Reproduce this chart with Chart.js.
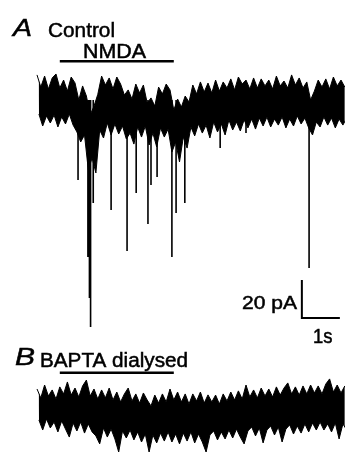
<!DOCTYPE html>
<html lang="en">
<head>
  <meta charset="UTF-8">
  <title>NMDA currents: Control vs BAPTA dialysed</title>
  <script src="https://cdn.jsdelivr.net/npm/chart.js"></script>
  <style>
    body { margin: 0; background: #fff; }
    #wrap { width: 345px; height: 452px; }
  </style>
</head>
<body>
  <div id="wrap"><canvas id="traces" width="345" height="452"></canvas></div>

  <script>
    // sampling of the envelope readings (s); peaks at i*dt, troughs at i*dt + dt/2
    const dt = 0.1;

    // trace A (control): upper and lower edge of the noise band, pA
    const aHigh = [
      13.2, 6.8, 12.6, 5.8, 11.6, 13.7, 6.3, 10.5, 4.7, 12.1,
      9.0, 0, 7.4, 2.1, -7.9, -3.2, 3.0, 12.6, 7.9, 11.6,
      5.8, 12.1, 8.4, 2.6, 5.3, 0.5, 8.4, 3.7, 7.9, -1.6,
      1.1, -3.2, 6.8, 3.2, 8.4, 5.3, -5.3, 0.5, -3.7, 2.1,
      -1.1, 7.9, 3.2, 9.5, 4.2, 8.9, 3.7, 10.5, 4.7, 9.5,
      6.3, 11.1, 5.3, 12.1, 8.4, 10.5, 5.8, 11.6, 6.3, 11.1,
      7.4, 10.5, 5.8, 12.6, 7.4, 10.0, 6.3, 13.2, 7.9, 11.6,
      6.3, 9.5, 0, 4.7, 10.5, 6.8, 11.1, 5.8, 12.1, 7.4,
      10.5, 6.8
    ];
    const aLow = [
      -7.4, -13.7, -8.4, -12.1, -7.9, -14.2, -8.9, -12.6, -7.4, -13.2,
      -16.8, -22.1, -18.4, -36.8, -30.5, -38.4, -15.8, -20.0, -12.1, -18.4,
      -12.6, -17.9, -13.7, -20.5, -17.4, -23.2, -14.2, -19.5, -13.7, -23.7,
      -17.4, -24.7, -14.7, -19.5, -15.3, -27.4, -22.1, -32.6, -19.5, -25.3,
      -14.2, -18.9, -12.6, -17.4, -13.2, -20.0, -11.6, -16.8, -12.6, -18.4,
      -10.5, -15.8, -11.6, -16.3, -10.5, -14.7, -10.0, -15.3, -9.5, -13.7,
      -9.0, -14.2, -10.0, -13.2, -8.9, -14.7, -10.0, -13.7, -8.4, -12.6,
      -9.5, -14.7, -18.4, -11.6, -14.2, -8.9, -13.2, -9.5, -14.7, -10.0,
      -13.2, -9.5
    ];
    // fast inward events in trace A: time (s) and peak amplitude (pA)
    const aEventT = [1.08, 1.34, 1.38, 1.41, 1.48, 1.95, 2.37, 2.61, 2.92, 3.00, 3.16, 3.55, 3.66, 3.89, 4.82, 5.50, 7.16];
    const aEventI = [-42.1, -82.6, -104.2, -119.5, -54.2, -57.9, -79.5, -48.9, -65.3, -44.7, -40.5, -82.6, -59.5, -54.2, -25.3, -17.4, -88.4];

    // trace B (BAPTA dialysed), pA relative to its own baseline
    const bHigh = [
      12.1, 7.4, 14.2, 8.4, 11.6, 6.8, 13.2, 9.5, 15.8, 8.9,
      12.6, 7.9, 13.7, 16.8, 8.4, 12.1, 6.8, 11.6, 7.4, 12.6,
      6.3, 10.5, 5.3, 9.5, 12.6, 5.8, 9.5, 4.7, 10.0, 6.3,
      3.2, 8.9, 4.7, 9.5, 5.3, 12.1, 6.3, 10.5, 5.3, 9.5,
      4.2, 9.5, 5.8, 10.5, 4.7, 9.0, 5.3, 8.9, 4.2, 9.5,
      5.8, 10.5, 6.3, 11.1, 6.8, 14.2, 7.9, 11.6, 7.4, 12.6,
      8.4, 12.1, 7.9, 13.2, 8.9, 12.6, 15.3, 9.5, 13.2, 8.9,
      13.7, 9.5, 14.2, 10.0, 13.7, 9.5, 14.7, 17.4, 10.5, 14.2,
      10.0, 13.7
    ];
    const bLow = [
      -4.2, -9.5, -3.7, -8.4, -5.3, -10.5, -4.7, -9.0, -13.2, -5.8,
      -10.0, -5.3, -11.1, -6.3, -10.5, -12.6, -16.8, -8.4, -13.2, -9.0,
      -14.2, -21.1, -10.0, -13.7, -9.5, -14.7, -10.5, -15.8, -11.6, -21.1,
      -12.1, -16.3, -11.1, -15.3, -10.5, -15.8, -11.6, -16.8, -11.1, -15.3,
      -10.5, -16.3, -11.6, -15.8, -21.1, -12.1, -10.0, -14.7, -10.5, -14.2,
      -9.5, -13.7, -9.0, -13.2, -16.8, -10.0, -7.9, -12.6, -8.4, -16.3,
      -9.5, -7.4, -12.1, -7.9, -15.8, -9.0, -6.8, -11.6, -7.4, -11.1,
      -6.3, -10.5, -5.8, -9.5, -5.3, -9.5, -6.3, -10.5, -5.8, -14.2,
      -6.3, -9.5
    ];

    // NMDA application (s) and bar level (pA above baseline)
    const drugOn = [0.6, 3.6];
    const barLevel = 20.4;
    // scale bar: 20 pA, 1 s
    const scaleT = 6.97, scaleI = -94.7, scaleAmp = 20, scaleDur = 1;

    // vertical placement of trace B on the shared current axis
    const traceBOffset = -164.2;

    const black = '#000';

    function edge(vals, shift, offset) {
      return vals.map((v, i) => ({ x: i * dt + shift, y: v + offset }));
    }

    const events = [];
    aEventT.forEach((t, i) => {
      events.push({ x: t, y: 0 }, { x: t, y: aEventI[i] }, { x: t, y: null });
    });

    function line(data, width, extra) {
      return Object.assign({
        data: data,
        borderColor: black,
        borderWidth: width,
        pointRadius: 0,
        tension: 0,
        fill: false,
        spanGaps: false
      }, extra || {});
    }

    const labels = {
      id: 'labels',
      afterDraw(chart) {
        const c = chart.ctx;
        // text, left x, baseline y, font px, italic, target width
        const items = [
          ['A', 13, 35.5, 24, true, 19],
          ['Control', 48, 36.5, 20, false, 67],
          ['NMDA', 83, 57.5, 20, false, 63],
          ['20 pA', 242, 308.5, 19, false, 55],
          ['1s', 313, 343, 20, false, 19.5],
          ['B', 15, 365, 24, true, 20],
          ['BAPTA dialysed', 40, 367.3, 20, false, 148]
        ];
        items.forEach(([txt, x, y, size, it, w]) => {
          c.save();
          c.font = (it ? 'italic ' : '') + size + 'px "Liberation Sans", Arial, sans-serif';
          c.fillStyle = black;
          c.strokeStyle = black;
          c.lineWidth = 0.5;
          c.textBaseline = 'alphabetic';
          const nat = c.measureText(txt).width;
          c.translate(x, y);
          c.scale(w / nat, 1);
          c.fillText(txt, 0, 0);
          c.strokeText(txt, 0, 0);
          c.restore();
        });
      }
    };

    new Chart(document.getElementById('traces'), {
      type: 'line',
      data: {
        datasets: [
          line(edge(aHigh, 0, 0), 1, { fill: '+1', backgroundColor: black }),
          line(edge(aLow, dt / 2, 0), 1),
          line(events, 1.6),
          line(edge(bHigh, 0, traceBOffset), 1, { fill: '+1', backgroundColor: black }),
          line(edge(bLow, dt / 2, traceBOffset), 1),
          line(drugOn.map(t => ({ x: t, y: barLevel })), 2.5),
          line(drugOn.map(t => ({ x: t, y: barLevel + traceBOffset + 0.2 })), 2.5),
          line([
            { x: scaleT, y: scaleI },
            { x: scaleT, y: scaleI - scaleAmp },
            { x: scaleT + scaleDur, y: scaleI - scaleAmp }
          ], 2)
        ]
      },
      options: {
        responsive: false,
        animation: false,
        layout: { padding: 0 },
        plugins: { legend: { display: false }, tooltip: { enabled: false } },
        scales: {
          x: { type: 'linear', display: false, min: -37 / 38, max: 308 / 38 },
          y: { type: 'linear', display: false, min: -352 / 1.9, max: 100 / 1.9 }
        }
      },
      plugins: [labels]
    });
  </script>
</body>
</html>
